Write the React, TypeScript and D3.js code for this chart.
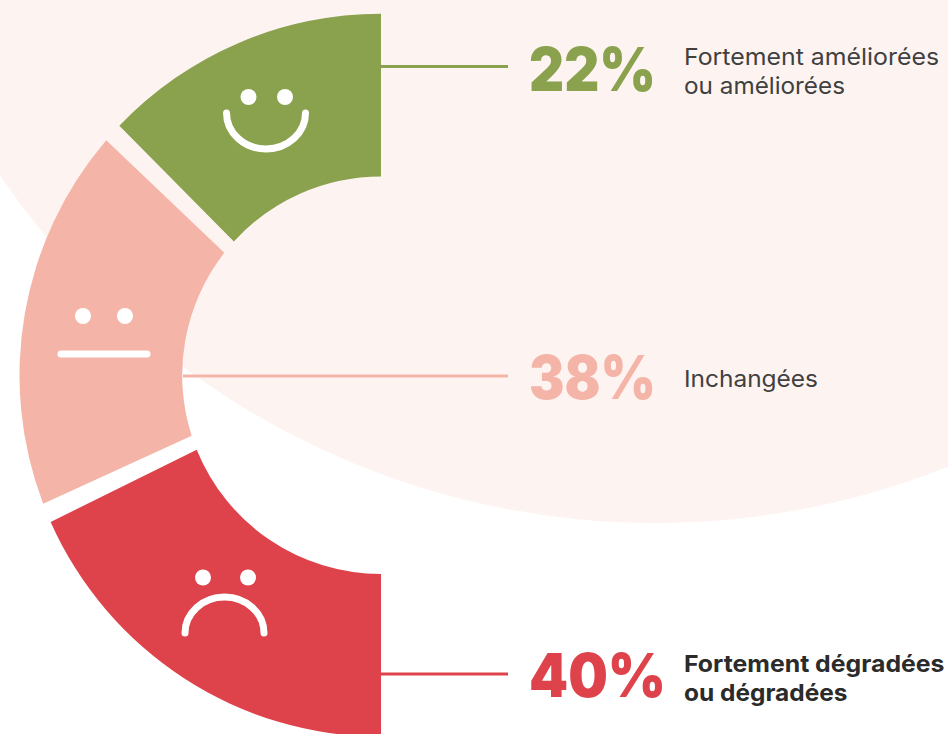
import React from "react";
import * as d3 from "d3";

const shares = [22, 38, 40];
const percentLabels = ["22%", "38%", "40%"];
const colors = ["#8aa14d", "#f4b5a8", "#de434c"];
const labelLines = [["Fortement améliorées", "ou améliorées"], ["Inchangées"], ["Fortement dégradées", "ou dégradées"]];
const cumulative = [0, 22, 60, 100];
const outerAngles = [0, 47.92, 112.4, 180];
const innerAngles = [0, 49.87, 109.9, 180];

const W = 948, H = 734;
const cx = 381, cy = 375.2, R = 361.5, r = 198.8;
const outerScale = d3.scaleLinear().domain(cumulative).range(outerAngles);
const innerScale = d3.scaleLinear().domain(cumulative).range(innerAngles);
const rad = (clockDeg: number) => -((clockDeg + 90) * Math.PI) / 180;

function segmentPath(i: number) {
  const from = d3.sum(shares.slice(0, i));
  const to = from + shares[i];
  const gapO = 1.55, gapI = 2.13;
  const o0 = rad(outerScale(from) + (i > 0 ? gapO : 0));
  const o1 = rad(outerScale(to) - (i < 2 ? gapO : 0));
  const i0 = rad(innerScale(from) + (i > 0 ? gapI : 0));
  const i1 = rad(innerScale(to) - (i < 2 ? gapI : 0));
  const p = d3.path();
  p.arc(cx, cy, R, o0, o1, true);
  p.arc(cx, cy, r, i1, i0, false);
  p.closePath();
  return p.toString();
}

const leaders = [
  { x1: 381, y: 66.5 },
  { x1: 183, y: 376 },
  { x1: 381, y: 674 },
];
const pctLayout = [
  { y: 91, w: 127 },
  { y: 399, w: 127 },
  { y: 697, w: 137 },
];
const labelLayout = [
  { ys: [65, 94], ws: [255, 161] },
  { ys: [387], ws: [134] },
  { ys: [672, 701], ws: [260.5, 163.5] },
];

const face = { fill: "none", stroke: "#fff", strokeWidth: 7, strokeLinecap: "round" as const };
const FONT = "Inter, 'Open Sans', sans-serif";

export default function App() {
  return (
    <svg width={W} height={H} viewBox={`0 0 ${W} ${H}`} style={{ position: "absolute", left: 0, top: 0, background: "#fff" }}>
      <circle cx={655} cy={-268} r={791} fill="#fdf4f2" />
      {shares.map((_, i) => (
        <path key={i} d={segmentPath(i)} fill={colors[i]} />
      ))}
      {leaders.map((l, i) => (
        <line key={i} x1={l.x1} x2={508} y1={l.y} y2={l.y} stroke={colors[i]} strokeWidth={3} />
      ))}
      <g fill="#fff">
        <circle cx={248.5} cy={97} r={8} />
        <circle cx={285} cy={97} r={8} />
        <circle cx={83} cy={316} r={8} />
        <circle cx={125} cy={316} r={8} />
        <circle cx={203} cy={577.5} r={8} />
        <circle cx={248} cy={577.5} r={8} />
      </g>
      <path d="M226.5 113 A39.5 36 0 0 0 305.5 113" {...face} />
      <line x1={61} x2={147} y1={354} y2={354} {...face} />
      <path d="M185 633 A39.5 36 0 0 1 264 633" {...face} />
      {percentLabels.map((t, i) => (
        <text key={t} x={529} y={pctLayout[i].y} fill={colors[i]} fontFamily={FONT} fontWeight={900} fontSize={60}
          textLength={pctLayout[i].w} lengthAdjust="spacingAndGlyphs">{t}</text>
      ))}
      {labelLines.map((lines, i) =>
        lines.map((t, j) => (
          <text key={t} x={684} y={labelLayout[i].ys[j]} fill={i === 2 ? "#2b2b2b" : "#404040"} fontFamily={FONT}
            fontWeight={i === 2 ? 700 : 400} fontSize={23.5}
            textLength={labelLayout[i].ws[j]} lengthAdjust="spacingAndGlyphs">{t}</text>
        ))
      )}
    </svg>
  );
}
